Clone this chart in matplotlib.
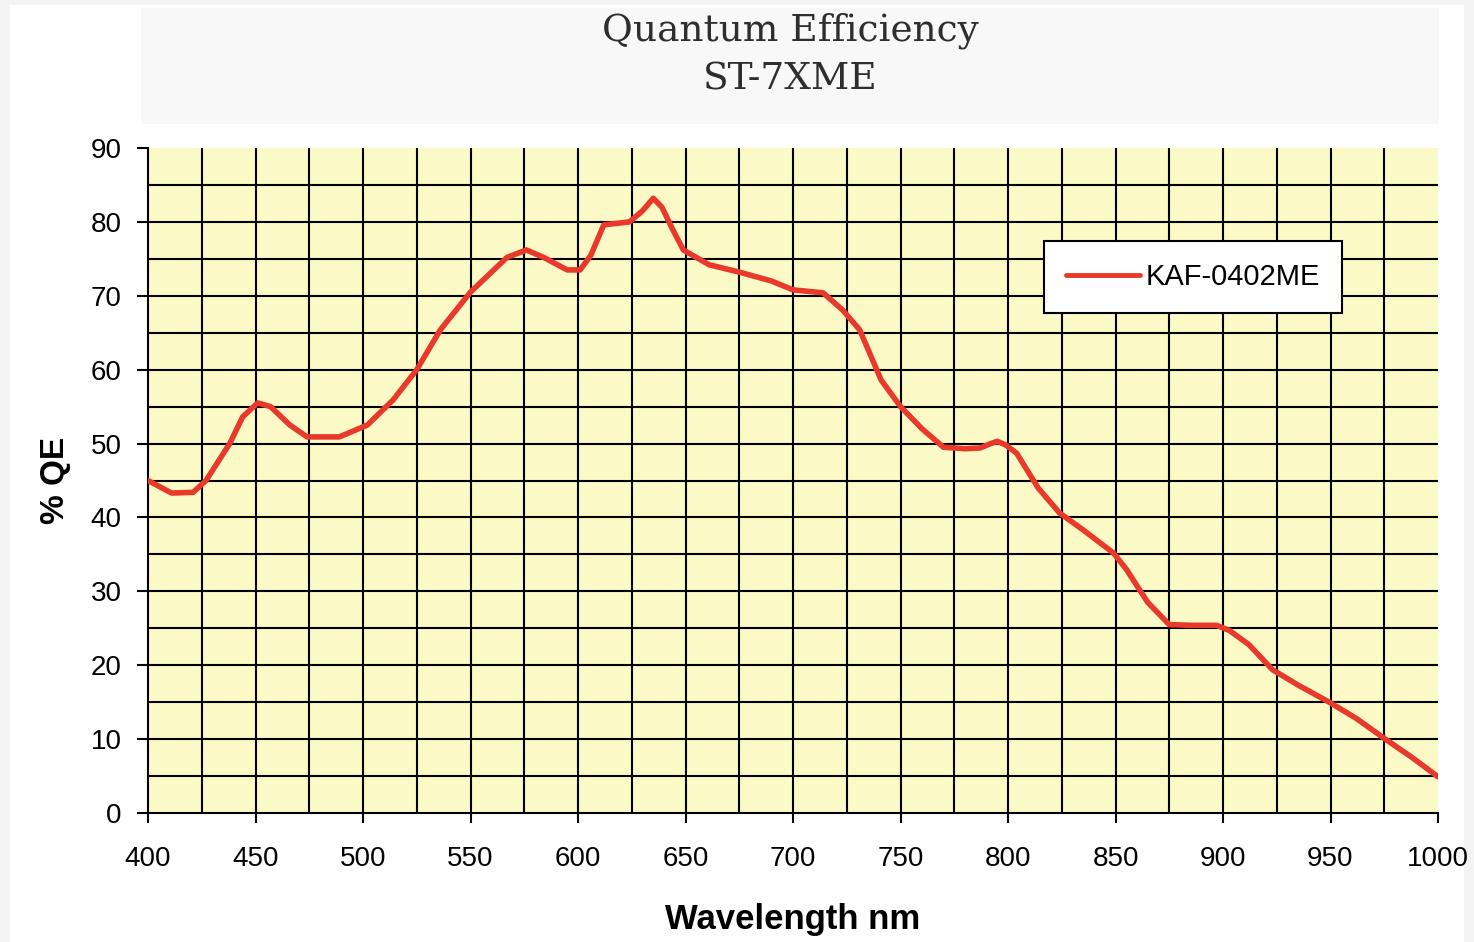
import matplotlib
matplotlib.use("Agg")
import matplotlib.pyplot as plt
from matplotlib.patches import Rectangle
import numpy as np

# ---- data ----
wavelength = [400, 411, 421, 427, 438, 444, 451, 457, 466, 474, 489, 502, 514, 525,
              536, 550, 567, 576, 584, 595, 601, 606, 612, 624, 630, 635, 639, 644,
              649, 661, 675, 690, 700, 714, 723, 731, 736, 741, 750, 760, 770, 780,
              787, 792, 795, 799, 804, 814, 824, 835, 849, 855, 865, 875, 885, 897,
              903, 912, 923, 935, 950, 962, 976, 988, 1000]
qe = [45.0, 43.3, 43.4, 45.0, 50.0, 53.6, 55.5, 55.0, 52.5, 50.9, 50.9, 52.5, 55.9, 60.0,
      65.4, 70.5, 75.2, 76.2, 75.2, 73.5, 73.5, 75.5, 79.6, 80.0, 81.5, 83.2, 82.0, 79.0,
      76.2, 74.2, 73.2, 72.0, 70.8, 70.4, 68.1, 65.4, 62.0, 58.6, 55.0, 52.0, 49.5, 49.3,
      49.4, 50.0, 50.3, 49.8, 48.7, 44.0, 40.6, 38.3, 35.2, 33.0, 28.5, 25.5, 25.4, 25.4,
      24.7, 22.8, 19.4, 17.3, 14.9, 12.8, 9.9, 7.5, 4.9]
series_name = "KAF-0402ME"
title_lines = ["Quantum Efficiency", "ST-7XME"]
x_label = "Wavelength nm"
y_label = "% QE"
x_ticks = list(range(400, 1001, 50))
y_ticks = list(range(0, 91, 10))

W, H = 1474, 942
fig = plt.figure(figsize=(W / 100, H / 100), dpi=100)
fig.patch.set_facecolor("#f3f3f3")

def fx(px):
    return px / W

def fy(py):
    return 1 - py / H

# white page and grey title panel
fig.patches.append(Rectangle((fx(10), 0), fx(1464) - fx(10), fy(5), transform=fig.transFigure,
                             facecolor="white", edgecolor="none", zorder=-10))
fig.patches.append(Rectangle((fx(141), fy(124)), fx(1439) - fx(141), fy(8) - fy(124),
                             transform=fig.transFigure, facecolor="#f8f8f8",
                             edgecolor="none", zorder=-9))

fig.text(fx(790), fy(31), title_lines[0], ha="center", va="center",
         family="DejaVu Serif", fontsize=27, color="#2e2e2e")
fig.text(fx(790), fy(80), title_lines[1], ha="center", va="center",
         family="DejaVu Serif", fontsize=27, color="#2e2e2e")

ax = fig.add_axes([fx(148), fy(813), fx(1438) - fx(148), fy(148) - fy(813)])
ax.set_zorder(1)
ax.set_facecolor("#fbf9c6")
ax.set_xlim(400, 1000)
ax.set_ylim(0, 90)

# interior grid lines
ax.hlines(np.arange(5, 90, 5), 400, 1000, colors="black", linewidth=1.5, zorder=1)
ax.vlines(np.arange(425, 1000, 25), 0, 90, colors="black", linewidth=1.5, zorder=1)

ax.plot(wavelength, qe, color="#e8392a", linewidth=4.0, label=series_name, zorder=3,
        solid_capstyle="round", solid_joinstyle="round")

for s in ["top", "right"]:
    ax.spines[s].set_visible(False)
for s in ["left", "bottom"]:
    ax.spines[s].set_color("black")
    ax.spines[s].set_linewidth(1.5)

ax.set_xticks(x_ticks)
ax.set_yticks(y_ticks)
ax.tick_params(axis="x", direction="out", length=7, width=1.5, pad=17,
               labelsize=20, colors="black")
ax.tick_params(axis="y", direction="out", length=8, width=1.5, pad=11,
               labelsize=20, colors="black")
for lab in ax.get_xticklabels() + ax.get_yticklabels():
    lab.set_family("Liberation Sans")

ax.set_xlabel(x_label, family="Liberation Sans", fontsize=25, fontweight="bold", labelpad=22)
ax.set_ylabel(y_label, family="Liberation Sans", fontsize=24, fontweight="bold", labelpad=14)

leg = ax.legend(loc="center", bbox_to_anchor=(fx(1193), fy(277)),
                bbox_transform=fig.transFigure, frameon=True, fancybox=False,
                shadow=False, handlelength=2.55, handletextpad=0.2, borderpad=0.75,
                borderaxespad=0, prop={"family": "Liberation Sans", "size": 21})
leg.get_frame().set_edgecolor("black")
leg.get_frame().set_linewidth(1.5)
leg.get_frame().set_facecolor("white")
leg.get_frame().set_alpha(1)
for h in leg.get_lines():
    h.set_linewidth(3.5)

fig.savefig("out.png", dpi=100, facecolor=fig.get_facecolor())
